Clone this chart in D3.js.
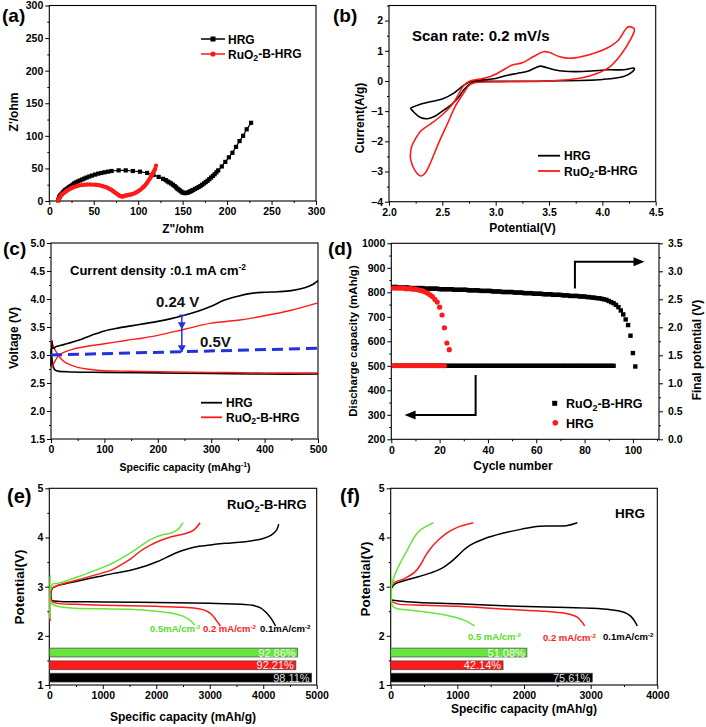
<!DOCTYPE html>
<html><head><meta charset="utf-8">
<script src="https://cdn.jsdelivr.net/npm/d3@7"></script>
<style>
body{margin:0;background:#fff}
svg{display:block}
text{font-family:"Liberation Sans",Arial,Helvetica,sans-serif;font-weight:bold}
</style>
</head><body>
<svg id="c" width="706" height="727"></svg>
<script>
// ---------------- DATA ----------------
// (a) Nyquist plot [Z'' , Z']
const a_hrg = [[10,1],[10.5,3],[11,5],[11.5,6.5],[12,8],[13,9.5],[14,11],[15,12.5],[16,14],[17,15.5],[18,17],[19.5,18.5],[21,20],[22.5,21.5],[24,23],[26,25],[28,27],[30,28.5],[32,30],[34.5,31.5],[37,33],[39.5,34.5],[42,36],[45,37.5],[48,39],[51.5,40.5],[55,42],[58.5,43],[62,44],[66,45],[70,46],[78,47],[86,47],[94,46],[102,45],[110,43],[117,40],[123,37],[128,34],[131,32],[133,30],[135,28.5],[137,27],[139,25],[141,23],[142.5,21],[144,19],[145.5,17.5],[147,16],[148.5,14.5],[150,13],[151.5,12.4],[153,12],[154.5,12.4],[156,13],[157.5,14],[159,15],[160.5,16],[162,17],[164,18.5],[166,20],[168,21.5],[170,23],[172,25],[174,27],[176,29],[178,31],[180,33.5],[182,36],[184,38.5],[186,41],[188,44],[190,47],[194,53],[198,60],[202,67],[206,74],[210,83],[214,92],[218,100],[222,110],[227,120]];
const a_ru = [[10,1],[10.5,2.5],[11,4],[12,6],[13,8],[14,9.5],[15,11],[16.5,12.5],[18,14],[19.5,15.5],[21,17],[23,18.5],[25,20],[27,21],[29,22],[31.5,23],[34,24],[37,24.5],[40,25],[43,25.3],[46,25.3],[49,25.2],[52,25],[54.5,24.5],[57,24],[59.5,23],[62,22],[64,21],[66,20],[68,18.5],[70,17],[71.5,15.5],[73,14],[74.5,12.5],[76,11],[77.5,9.5],[79,8],[80.5,7.3],[82,7],[83.5,7.3],[85,8],[86.5,8.5],[88,9],[90,9.5],[92,10],[94,11],[96,12],[98,13.5],[100,15],[102,17],[104,19],[105.5,21],[107,23],[108.5,25.5],[110,28],[111.5,31],[113,34],[114,36.5],[115,39],[116,41.5],[117,44],[118,46.5],[119,49],[120,54]];

// (b) cyclic voltammetry loops [V, A/g]
const b_hrg = [[2.2,-0.9],[2.3,-0.76],[2.4,-0.68],[2.5,-0.6],[2.6,-0.42],[2.68,-0.2],[2.75,-0.04],[2.85,0.03],[3.0,0.08],[3.1,0.18],[3.2,0.25],[3.3,0.32],[3.38,0.45],[3.42,0.49],[3.47,0.45],[3.55,0.37],[3.65,0.32],[3.75,0.31],[3.9,0.33],[4.05,0.37],[4.2,0.37],[4.3,0.42],[4.28,0.3],[4.2,0.15],[4.0,0.05],[3.5,0.0],[3.0,-0.01],[2.85,-0.02],[2.76,-0.1],[2.7,-0.3],[2.65,-0.55],[2.58,-0.8],[2.5,-1.0],[2.43,-1.17],[2.36,-1.25],[2.29,-1.2],[2.23,-1.02],[2.2,-0.9]];
const b_ru = [[2.2,-2.55],[2.21,-2.2],[2.25,-1.9],[2.3,-1.65],[2.4,-1.4],[2.5,-1.12],[2.6,-0.75],[2.65,-0.45],[2.7,-0.15],[2.76,0.0],[2.85,0.06],[2.95,0.15],[3.05,0.32],[3.15,0.52],[3.25,0.6],[3.35,0.8],[3.45,0.97],[3.5,0.95],[3.6,0.8],[3.7,0.75],[3.8,0.8],[3.95,0.95],[4.05,1.1],[4.15,1.35],[4.22,1.72],[4.25,1.8],[4.3,1.72],[4.26,1.35],[4.17,0.85],[4.07,0.47],[3.95,0.25],[3.8,0.1],[3.5,0.0],[3.0,-0.03],[2.8,-0.06],[2.75,-0.15],[2.7,-0.4],[2.62,-0.85],[2.55,-1.4],[2.46,-2.1],[2.39,-2.7],[2.34,-3.05],[2.3,-3.15],[2.26,-3.05],[2.22,-2.8],[2.2,-2.55]];

// (c) first charge/discharge [mAh/g, V]
const c_hrg_charge = [[0,2.8],[2,3.25],[3,3.12],[10,3.15],[25,3.19],[50,3.26],[75,3.35],[100,3.43],[125,3.48],[150,3.52],[175,3.56],[200,3.6],[225,3.65],[250,3.71],[275,3.78],[300,3.87],[325,3.98],[350,4.05],[375,4.1],[400,4.12],[425,4.13],[450,4.15],[475,4.2],[490,4.26],[500,4.33]];
const c_hrg_discharge = [[0,3.1],[3,2.85],[6,2.75],[10,2.72],[30,2.7],[100,2.69],[200,2.68],[300,2.67],[400,2.66],[500,2.66]];
const c_ru_charge = [[0,2.75],[8,2.9],[15,3.0],[25,3.05],[40,3.1],[70,3.16],[100,3.2],[140,3.26],[170,3.3],[200,3.35],[250,3.46],[300,3.57],[350,3.62],[400,3.7],[450,3.8],[500,3.93]];
const c_ru_discharge = [[0,3.25],[5,3.15],[10,3.05],[20,2.92],[30,2.85],[50,2.78],[75,2.74],[100,2.72],[150,2.71],[200,2.7],[300,2.69],[400,2.68],[500,2.68]];
const c_ref = [[0,3.0],[500,3.12]];
const c_gap_x = 245;
const c_gap_levels = [3.71, 3.46, 3.05];

// (d) cycling: capacity limited to 500 mAh/g, final discharge potential (V)
const d_ru_capacity = [500,500,500,500,500,500,500,500,500,500,500,500,500,500,500,500,500,500,500,500,500,500,500,500,500,500,500,500,500,500,500,500,500,500,500,500,500,500,500,500,500,500,500,500,500,500,500,500,500,500,500,500,500,500,500,500,500,500,500,500,500,500,500,500,500,500,500,500,500,500,500,500,500,500,500,500,500,500,500,500,500,500,500,500,500,500,500,500,500,500,500,500];
const d_hrg_capacity = [500,500,500,500,500,500,500,500,500,500,500,500,500,500,500,500,500,500,500,500,500,500];
const d_ru_potential = [
2.72,2.72,2.71,2.71,2.71,2.71,2.71,2.70,2.70,2.70,
2.70,2.70,2.70,2.69,2.69,2.69,2.69,2.69,2.69,2.68,
2.68,2.68,2.68,2.68,2.68,2.67,2.67,2.67,2.67,2.67,
2.67,2.66,2.66,2.66,2.66,2.66,2.65,2.65,2.65,2.65,
2.65,2.64,2.64,2.64,2.64,2.63,2.63,2.63,2.63,2.63,
2.62,2.62,2.62,2.62,2.61,2.61,2.61,2.61,2.60,2.60,
2.60,2.60,2.59,2.59,2.59,2.59,2.58,2.58,2.58,2.58,
2.57,2.57,2.57,2.56,2.56,2.56,2.56,2.55,2.55,2.55,
2.54,2.54,2.53,2.53,2.52,2.52,2.51,2.50,2.49,2.47,
2.45,2.43,2.40,2.36,2.30,2.23,2.14,2.04,1.85,1.54,1.30];
const d_hrg_potential = [2.70,2.70,2.70,2.70,2.70,2.69,2.69,2.69,2.68,2.68,2.67,2.66,2.65,2.63,2.61,2.58,2.55,2.50,2.45,2.36,2.22,1.99,1.72,1.60];

// (e) RuO2-B-HRG at three current densities [mAh/g, V]
const e_charge_01 = [[25,2.75],[30,2.88],[60,2.97],[150,3.02],[300,3.06],[600,3.13],[900,3.2],[1200,3.27],[1500,3.33],[1800,3.42],[2000,3.5],[2200,3.6],[2400,3.7],[2600,3.77],[2800,3.82],[3100,3.86],[3400,3.89],[3700,3.92],[4000,3.98],[4150,4.05],[4250,4.15],[4290,4.27]];
const e_discharge_01 = [[20,2.95],[30,2.78],[50,2.72],[200,2.7],[1000,2.69],[2000,2.68],[3000,2.66],[3600,2.64],[3800,2.62],[3950,2.57],[4050,2.48],[4150,2.35],[4230,2.2]];
const e_charge_02 = [[15,2.3],[20,2.85],[60,2.97],[170,3.03],[540,3.14],[900,3.25],[1170,3.34],[1350,3.45],[1540,3.58],[1700,3.72],[1900,3.85],[2100,3.95],[2300,4.02],[2550,4.08],[2700,4.15],[2820,4.3]];
const e_discharge_02 = [[20,3.0],[30,2.75],[50,2.7],[150,2.66],[500,2.64],[1000,2.62],[1500,2.61],[2000,2.6],[2500,2.58],[2800,2.55],[2950,2.5],[3050,2.42],[3120,2.32],[3200,2.2]];
const e_charge_05 = [[10,2.35],[15,3.22],[20,2.92],[60,3.05],[170,3.07],[540,3.2],[900,3.35],[1170,3.47],[1480,3.66],[1700,3.82],[1900,3.96],[2100,4.05],[2300,4.1],[2420,4.18],[2500,4.3]];
const e_discharge_05 = [[20,2.72],[50,2.65],[150,2.6],[500,2.56],[1000,2.55],[1500,2.54],[2000,2.5],[2300,2.46],[2500,2.4],[2650,2.3],[2720,2.22]];
const e_pct = [92.86, 92.21, 98.11];
const e_pct_labels = ["92.86%", "92.21%", "98.11%"];

// (f) HRG at three current densities [mAh/g, V]
const f_charge_01 = [[15,2.97],[60,3.05],[200,3.12],[414,3.2],[600,3.28],[765,3.37],[900,3.5],[1000,3.62],[1100,3.75],[1200,3.85],[1415,3.98],[1665,4.08],[1965,4.17],[2235,4.23],[2635,4.24],[2800,4.3]];
const f_discharge_01 = [[10,2.73],[300,2.69],[1000,2.65],[1900,2.6],[2500,2.58],[3000,2.56],[3300,2.53],[3500,2.48],[3600,2.4],[3660,2.3],[3700,2.2]];
const f_charge_02 = [[20,3.0],[40,3.07],[215,3.17],[365,3.3],[450,3.45],[515,3.61],[600,3.78],[715,3.95],[830,4.08],[915,4.15],[1050,4.23],[1240,4.3]];
const f_discharge_02 = [[10,2.7],[100,2.65],[500,2.62],[1000,2.6],[1500,2.56],[2000,2.52],[2400,2.49],[2650,2.45],[2800,2.38],[2870,2.28],[2910,2.2]];
const f_charge_05 = [[10,2.7],[15,3.15],[30,3.05],[50,3.2],[100,3.36],[150,3.5],[200,3.62],[270,3.8],[350,4.0],[420,4.12],[500,4.2],[640,4.3]];
const f_discharge_05 = [[10,2.72],[30,2.6],[100,2.55],[300,2.52],[600,2.47],[900,2.4],[1100,2.32],[1260,2.2]];
const f_pct = [51.08, 42.14, 75.61];
const f_pct_labels = ["51.08%", "42.14%", "75.61%"];

// ---------------- DRAW ----------------
const RED = "#ff1a1a", GREEN = "#66e63a", BLUE = "#2233dd";
const svg = d3.select("#c");

function range(a, b, s) { const r = []; for (let v = a; v <= b + 1e-9; v += s) r.push(+v.toFixed(6)); return r; }

function makePanel(p) {
  const x = d3.scaleLinear().domain(p.xDomain).range([p.left, p.right]);
  const y = d3.scaleLinear().domain(p.yDomain).range([p.bottom, p.top]);
  const g = svg.append("g");
  const ax = g.append("g").attr("class", "axes");
  ax.append("g").attr("transform", `translate(0,${p.bottom})`)
    .call(d3.axisBottom(x).tickValues(p.xTicks).tickFormat(p.xFmt).tickSize(4).tickPadding(3));
  ax.append("g").attr("transform", `translate(0,${p.bottom})`)
    .call(d3.axisBottom(x).tickValues(p.xMinor).tickFormat(() => "").tickSize(2));
  ax.append("g").attr("transform", `translate(${p.left},0)`)
    .call(d3.axisLeft(y).tickValues(p.yTicks).tickFormat(p.yFmt).tickSize(4).tickPadding(2));
  ax.append("g").attr("transform", `translate(${p.left},0)`)
    .call(d3.axisLeft(y).tickValues(p.yMinor).tickFormat(() => "").tickSize(2));
  let y2 = null;
  if (p.y2Domain) {
    y2 = d3.scaleLinear().domain(p.y2Domain).range([p.bottom, p.top]);
    ax.append("g").attr("transform", `translate(${p.right},0)`)
      .call(d3.axisRight(y2).tickValues(p.y2Ticks).tickFormat(p.y2Fmt).tickSize(4).tickPadding(5));
    ax.append("g").attr("transform", `translate(${p.right},0)`)
      .call(d3.axisRight(y2).tickValues(p.y2Minor).tickFormat(() => "").tickSize(2));
  }
  ax.selectAll(".domain").remove();
  ax.selectAll(".tick line").attr("stroke", "#000").attr("stroke-width", 1);
  ax.selectAll(".tick text").attr("font-size", 10.5).attr("fill", "#000");
  g.append("rect").attr("x", p.left).attr("y", p.top)
    .attr("width", p.right - p.left).attr("height", p.bottom - p.top)
    .attr("fill", "none").attr("stroke", "#000").attr("stroke-width", 1.1);
  const plot = svg.append("g");
  return { x, y, y2, g, plot };
}

function curve(P, data, color, w, yScale) {
  const ys = yScale || P.y;
  P.plot.append("path").datum(data)
    .attr("d", d3.line().x(d => P.x(d[0])).y(d => ys(d[1])).curve(d3.curveCatmullRom.alpha(0.5)))
    .attr("fill", "none").attr("stroke", color).attr("stroke-width", w || 1.5)
    .attr("stroke-linejoin", "round");
}

function label(txt, x, y, size, opts) {
  opts = opts || {};
  const t = svg.append("text").attr("x", x).attr("y", y).attr("font-size", size)
    .attr("fill", opts.fill || "#000").attr("text-anchor", opts.anchor || "start");
  if (txt) t.text(txt);
  if (opts.weight) t.style("font-weight", opts.weight);
  if (opts.rotate) t.attr("transform", `rotate(-90,${x},${y})`);
  return t;
}
function richText(t, parts) {
  parts.forEach(p => {
    const s = t.append("tspan").text(p.t);
    if (p.sub) s.attr("font-size", "0.72em").attr("dy", "0.3em");
    if (p.sup) s.attr("font-size", "0.65em").attr("dy", "-0.55em");
    if (p.reset) s.attr("dy", p.reset);
  });
  return t;
}
const ruParts = () => [{ t: "RuO" }, { t: "2", sub: true }, { t: "-B-HRG", reset: "-0.22em" }];

// ---- Panel (a)
const A = makePanel({ left: 49.3, right: 316, top: 5.5, bottom: 201,
  xDomain: [0, 300], yDomain: [0, 300],
  xTicks: range(0, 300, 50), xMinor: range(25, 275, 50), xFmt: d3.format("d"),
  yTicks: range(0, 300, 50), yMinor: range(25, 275, 50), yFmt: d3.format("d") });
A.plot.append("path").datum(a_hrg).attr("d", d3.line().x(d => A.x(d[0])).y(d => A.y(d[1])))
  .attr("fill", "none").attr("stroke", "#000").attr("stroke-width", 1.2);
A.plot.selectAll(".sq").data(a_hrg).join("rect").attr("x", d => A.x(d[0]) - 2.1).attr("y", d => A.y(d[1]) - 2.1)
  .attr("width", 4.2).attr("height", 4.2).attr("fill", "#000");
A.plot.append("path").datum(a_ru).attr("d", d3.line().x(d => A.x(d[0])).y(d => A.y(d[1])))
  .attr("fill", "none").attr("stroke", RED).attr("stroke-width", 1.2);
A.plot.selectAll(".ci").data(a_ru).join("circle").attr("cx", d => A.x(d[0])).attr("cy", d => A.y(d[1]))
  .attr("r", 2.2).attr("fill", RED);
// legend (a)
svg.append("line").attr("x1", 201).attr("x2", 225).attr("y1", 39).attr("y2", 39).attr("stroke", "#000").attr("stroke-width", 1.5);
svg.append("rect").attr("x", 210.5).attr("y", 36.5).attr("width", 5).attr("height", 5).attr("fill", "#000");
svg.append("line").attr("x1", 201).attr("x2", 225).attr("y1", 54).attr("y2", 54).attr("stroke", RED).attr("stroke-width", 1.5);
svg.append("circle").attr("cx", 213).attr("cy", 54).attr("r", 2.6).attr("fill", RED);
label("HRG", 228, 43.5, 12);
richText(label("", 228, 58.5, 12), ruParts());
label("Z\"/ohm", 183, 233, 12, { anchor: "middle" });
label("Z'/ohm", 17.5, 112, 12, { anchor: "middle", rotate: true });
label("(a)", 2, 22, 19);

// ---- Panel (b)
const B = makePanel({ left: 389, right: 655.7, top: 5.5, bottom: 201.7,
  xDomain: [2.0, 4.5], yDomain: [-4, 2.5],
  xTicks: range(2, 4.5, 0.5), xMinor: range(2.25, 4.25, 0.5), xFmt: d3.format(".1f"),
  yTicks: range(-4, 2, 1), yMinor: range(-3.5, 2.5, 1), yFmt: d3.format("d") });
curve(B, b_hrg, "#000", 1.6);
curve(B, b_ru, RED, 1.6);
label("Scan rate: 0.2 mV/s", 412, 41, 15);
svg.append("line").attr("x1", 538).attr("x2", 560).attr("y1", 155.7).attr("y2", 155.7).attr("stroke", "#000").attr("stroke-width", 1.8);
svg.append("line").attr("x1", 538).attr("x2", 560).attr("y1", 171).attr("y2", 171).attr("stroke", RED).attr("stroke-width", 1.8);
label("HRG", 564, 160, 12);
richText(label("", 564, 175.5, 12), ruParts());
label("Potential(V)", 522.5, 232, 12, { anchor: "middle" });
label("Current(A/g)", 364, 118, 12, { anchor: "middle", rotate: true });
label("(b)", 333, 22, 19);

// ---- Panel (c)
const C = makePanel({ left: 51, right: 318, top: 243, bottom: 439,
  xDomain: [0, 500], yDomain: [1.5, 5.0],
  xTicks: range(0, 500, 100), xMinor: range(50, 450, 100), xFmt: d3.format("d"),
  yTicks: range(1.5, 5.0, 0.5), yMinor: range(1.75, 4.75, 0.5), yFmt: d3.format(".1f") });
curve(C, c_hrg_discharge, "#000", 1.6);
curve(C, c_ru_discharge, RED, 1.4);
curve(C, c_hrg_charge, "#000", 1.6);
curve(C, c_ru_charge, RED, 1.4);
C.plot.append("path").datum(c_ref).attr("d", d3.line().x(d => C.x(d[0])).y(d => C.y(d[1])))
  .attr("stroke", BLUE).attr("stroke-width", 3).attr("stroke-dasharray", "11,6").attr("fill", "none");
{
  const ax = C.x(c_gap_x);
  C.plot.append("line").attr("x1", ax).attr("x2", ax).attr("y1", C.y(c_gap_levels[0])).attr("y2", C.y(c_gap_levels[2]))
    .attr("stroke", BLUE).attr("stroke-width", 1.5);
  [c_gap_levels[1], c_gap_levels[2]].forEach(v => {
    const ty = C.y(v);
    C.plot.append("path").attr("d", `M${ax - 4},${ty - 7}L${ax + 4},${ty - 7}L${ax},${ty}Z`).attr("fill", BLUE);
  });
  C.plot.append("line").attr("x1", ax - 3).attr("x2", ax + 3).attr("y1", C.y(c_gap_levels[0])).attr("y2", C.y(c_gap_levels[0]))
    .attr("stroke", BLUE).attr("stroke-width", 1.2);
}
label("0.24 V", 156, 307, 15, { fill: "#111" });
label("0.5V", 200, 347, 15, { fill: "#111" });
richText(label("", 70, 275, 13), [{ t: "Current density :0.1 mA cm" }, { t: "-2", sup: true }]);
svg.append("line").attr("x1", 201).attr("x2", 222).attr("y1", 402.7).attr("y2", 402.7).attr("stroke", "#000").attr("stroke-width", 1.8);
svg.append("line").attr("x1", 201).attr("x2", 222).attr("y1", 417.3).attr("y2", 417.3).attr("stroke", RED).attr("stroke-width", 1.8);
label("HRG", 226, 407, 12);
richText(label("", 226, 421.8, 12), ruParts());
richText(label("", 185, 471, 10.5, { anchor: "middle" }), [{ t: "Specific capacity (mAhg" }, { t: "-1", sup: true }, { t: ")", reset: "0.35em" }]);
label("Voltage (V)", 18, 338, 12, { anchor: "middle", rotate: true });
label("(c)", 3, 255, 19);

// ---- Panel (d)
const D = makePanel({ left: 391.3, right: 659, top: 243.3, bottom: 439.3,
  xDomain: [0, 110.8], yDomain: [200, 1000],
  xTicks: range(0, 100, 20), xMinor: range(10, 110, 20), xFmt: d3.format("d"),
  yTicks: range(200, 1000, 100), yMinor: range(250, 950, 100), yFmt: d3.format("d"),
  y2Domain: [0, 3.5], y2Ticks: range(0, 3.5, 0.5), y2Minor: range(0.25, 3.25, 0.5), y2Fmt: d3.format(".1f") });
D.plot.selectAll(".rc").data(d_ru_capacity).join("rect")
  .attr("x", (d, i) => D.x(i + 1) - 2.2).attr("y", d => D.y(d) - 2.2).attr("width", 4.4).attr("height", 4.4).attr("fill", "#000");
D.plot.selectAll(".rp").data(d_ru_potential).join("rect")
  .attr("x", (d, i) => D.x(i + 1) - 2.2).attr("y", d => D.y2(d) - 2.2).attr("width", 4.4).attr("height", 4.4).attr("fill", "#000");
D.plot.selectAll(".hc").data(d_hrg_capacity).join("circle")
  .attr("cx", (d, i) => D.x(i + 1)).attr("cy", d => D.y(d)).attr("r", 2.5).attr("fill", RED);
D.plot.selectAll(".hp").data(d_hrg_potential).join("circle")
  .attr("cx", (d, i) => D.x(i + 1)).attr("cy", d => D.y2(d)).attr("r", 2.6).attr("fill", RED);
// arrows
{
  const vx = D.x(76), yA = D.y(816), yB = D.y(925), hx = D.x(104.8);
  D.plot.append("path").attr("d", `M${vx},${yA}V${yB}H${hx - 10}`).attr("fill", "none").attr("stroke", "#000").attr("stroke-width", 2);
  D.plot.append("path").attr("d", `M${hx - 11},${yB - 4.5}L${hx},${yB}L${hx - 11},${yB + 4.5}Z`).attr("fill", "#000");
  const lx = D.x(34.9), lA = D.y(462), lB = D.y(299), lx2 = D.x(5.5);
  D.plot.append("path").attr("d", `M${lx},${lA}V${lB}H${lx2 + 10}`).attr("fill", "none").attr("stroke", "#000").attr("stroke-width", 2);
  D.plot.append("path").attr("d", `M${lx2 + 11},${lB - 4.5}L${lx2},${lB}L${lx2 + 11},${lB + 4.5}Z`).attr("fill", "#000");
}
svg.append("rect").attr("x", 552.2).attr("y", 400.8).attr("width", 5).attr("height", 5).attr("fill", "#000");
svg.append("circle").attr("cx", 555.3).attr("cy", 422.7).attr("r", 2.8).attr("fill", RED);
richText(label("", 566, 408, 12.5), ruParts());
label("HRG", 566, 427.5, 12.5);
label("Cycle number", 513, 470, 12, { anchor: "middle" });
label("Discharge capacity (mAh/g)", 357, 341, 11.5, { anchor: "middle", rotate: true });
label("Final potential (V)", 701, 350, 12, { anchor: "middle", rotate: true });
label("(d)", 328, 255, 19);

// ---- Panels (e) and (f)
function gcdPanel(o) {
  const P = makePanel({ left: o.left, right: o.right, top: 488.3, bottom: 685,
    xDomain: [0, o.xmax], yDomain: [1, 5],
    xTicks: range(0, o.xmax, 1000), xMinor: range(500, o.xmax - 500, 1000), xFmt: d3.format("d"),
    yTicks: range(1, 5, 1), yMinor: range(1.5, 4.5, 1), yFmt: d3.format("d") });
  const pctX = d3.scaleLinear().domain([0, 100]).range([o.left, o.right]);
  const barY = [[1.57, 1.75], [1.31, 1.49], [1.06, 1.24]];
  const cols = [GREEN, RED, "#000"];
  o.pct.forEach((v, i) => {
    P.plot.append("rect").attr("x", pctX(0)).attr("y", P.y(barY[i][1]))
      .attr("width", pctX(v) - pctX(0)).attr("height", P.y(barY[i][0]) - P.y(barY[i][1]))
      .attr("fill", cols[i]).attr("stroke", "#444").attr("stroke-width", 0.7);
    P.plot.append("text").attr("x", pctX(v) - 2).attr("y", (P.y(barY[i][0]) + P.y(barY[i][1])) / 2 + 4)
      .attr("text-anchor", "end").attr("font-size", 11).style("font-weight", "normal")
      .attr("fill", i === 2 ? "#ddd" : "#f4f4f4").text(o.pctLabels[i]);
  });
  o.curves.forEach(c => curve(P, c[0], c[1], 1.5));
  return P;
}
const E = gcdPanel({ left: 49.3, right: 316.7, xmax: 5000, pct: e_pct, pctLabels: e_pct_labels,
  curves: [[e_charge_01, "#000"], [e_discharge_01, "#000"], [e_charge_02, RED], [e_discharge_02, RED], [e_charge_05, GREEN], [e_discharge_05, GREEN]] });
richText(label("", 227, 509, 13), ruParts());
richText(label("", 150, 632, 9.5, { fill: "#55dd2a" }), [{ t: "0.5mA/cm" }, { t: "-2", sup: true }]);
richText(label("", 203, 632, 9.5, { fill: RED }), [{ t: "0.2 mA/cm" }, { t: "-2", sup: true }]);
richText(label("", 260, 632, 9.5), [{ t: "0.1mA/cm" }, { t: "-2", sup: true }]);
label("Specific capacity (mAh/g)", 183, 721, 12, { anchor: "middle" });
label("Potential(V)", 24, 587, 13.5, { anchor: "middle", rotate: true });
label("(e)", 7, 503, 20);

const F = gcdPanel({ left: 390.7, right: 657.3, xmax: 4000, pct: f_pct, pctLabels: f_pct_labels,
  curves: [[f_charge_01, "#000"], [f_discharge_01, "#000"], [f_charge_02, RED], [f_discharge_02, RED], [f_charge_05, GREEN], [f_discharge_05, GREEN]] });
label("HRG", 615, 518, 13.5);
richText(label("", 468, 640, 9.5, { fill: "#55dd2a" }), [{ t: "0.5 mA/cm" }, { t: "-2", sup: true }]);
richText(label("", 543, 641, 9.5, { fill: RED }), [{ t: "0.2 mA/cm" }, { t: "-2", sup: true }]);
richText(label("", 603, 640, 9.5), [{ t: "0.1mA/cm" }, { t: "-2", sup: true }]);
label("Specific capacity (mAh/g)", 524, 713, 12, { anchor: "middle" });
label("Potential(V)", 370, 579, 13.5, { anchor: "middle", rotate: true });
label("(f)", 340, 503, 20);
</script>
</body></html>
